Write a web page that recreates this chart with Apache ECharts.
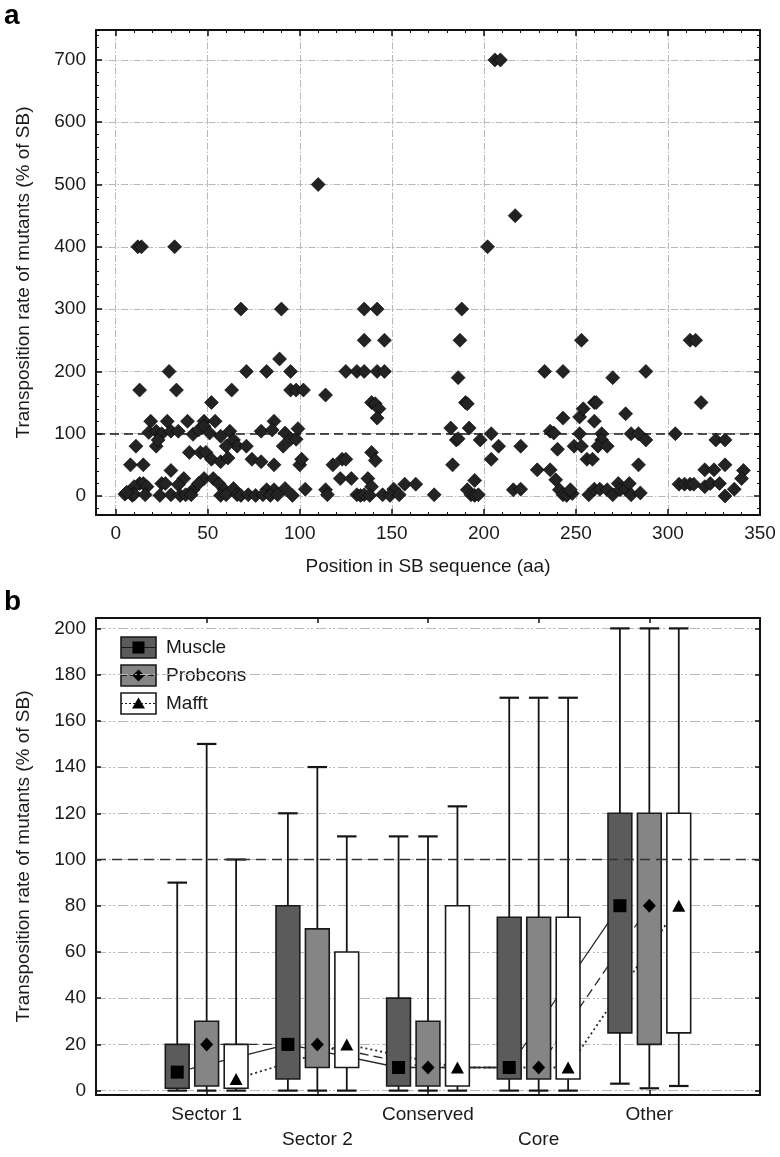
<!DOCTYPE html>
<html><head><meta charset="utf-8">
<script src="https://cdn.jsdelivr.net/npm/echarts@6/dist/echarts.min.js"></script>
<style>html,body{margin:0;padding:0;background:#fff}#c{width:780px;height:1157px}</style>
</head><body><div id="c"></div>
<script>
// ---------------- Panel a data ----------------
const mutantPoints = [
  [12,400],[14,400],[32,400],[110,500],[206,700],[209,700],[217,450],[202,400],
  [68,300],[90,300],[135,300],[142,300],[135,250],[146,250],
  [29,200],[13,170],[33,170],[71,200],[82,200],[89,220],[95,200],[63,170],
  [95,170],[98,170],[102,170],[52,150],[114,162],
  [125,200],[131,200],[135,200],[142,200],[146,200],
  [139,150],[141,148],[143,140],[142,125],
  [19,120],[28,120],[39,120],[48,120],[54,120],[86,120],
  [18,102],[22,104],[25,100],[30,104],[34,104],
  [42,99],[45,106],[48,112],[51,101],[57,96],[62,104],[64,90],
  [22,80],[23,90],[11,80],[40,70],[46,70],[49,70],[52,59],
  [66,80],[71,80],[60,80],[79,104],[85,106],
  [92,101],[95,91],[98,91],[99,108],[91,80],
  [74,59],[79,55],[86,50],[100,50],[101,59],
  [8,50],[15,50],[118,50],[123,59],[125,59],[139,70],[141,57],
  [122,28],[128,28],[137,28],[139,15],
  [30,41],[37,28],[34,18],[48,28],[53,28],[56,20],[57,55],[61,61],
  [13,20],[15,20],[17,15],[10,15],[25,20],[27,20],[42,10],[45,20],
  [59,10],[64,12],[82,10],[86,10],[92,12],[103,11],[114,10],[115,2],
  [151,11],[157,19],[163,19],[173,2],
  [5,3],[9,1],[10,3],[16,2],[24,1],[30,2],[35,1],[38,2],[41,2],[57,1],[60,2],[66,2],
  [68,1],[72,2],[76,1],[80,2],[84,1],[88,2],[96,1],[131,2],[133,1],[135,2],[138,1],
  [145,2],[149,1],[154,2],[6,6],
  [188,300],[187,250],[186,190],[190,150],[191,148],[182,109],[192,109],[185,90],[186,92],
  [198,90],[183,50],[195,25],[191,10],[193,2],[195,1],[197,2],
  [204,100],[208,80],[204,59],[220,80],[216,10],[220,11],
  [233,200],[243,200],[253,250],[270,190],[288,200],[318,150],[312,250],[315,250],
  [243,125],[236,104],[238,101],[240,75],
  [229,42],[236,42],[239,26],[241,10],[243,2],[245,1],[248,4],[247,10],
  [252,127],[254,140],[260,150],[261,150],[260,120],[252,100],[249,80],[253,80],
  [256,59],[259,59],[264,100],[264,90],[262,80],[267,80],
  [277,132],[280,100],[284,100],[288,90],[284,50],
  [257,2],[260,11],[263,11],[267,10],[270,2],[273,20],[274,10],[277,11],[279,20],[280,2],[285,5],
  [304,100],[306,19],[309,19],[312,19],[314,19],[320,42],[325,42],[326,90],[331,90],
  [320,15],[323,20],[328,20],[331,50],[331,0],[336,11],[341,41],[340,28]
];
const xTicksA = [0,50,100,150,200,250,300,350];
const yTicksA = [0,100,200,300,400,500,600,700];
const xMinorA = [10,20,30,40,60,70,80,90,110,120,130,140,160,170,180,190,210,220,230,240,260,270,280,290,310,320,330,340];
const yMinorA = [-20,20,40,60,80,120,140,160,180,220,240,260,280,320,340,360,380,420,440,460,480,520,540,560,580,620,640,660,680,720,740];
const refRateA = 100;

// ---------------- Panel b data ----------------
const categories = ['Sector 1','Sector 2','Conserved','Core','Other'];
const catPositions = [1,2,3,4,5];
// [min, q1, median, q3, max]
const muscleStats   = [[0,1,8,20,90],[0,5,20,80,120],[0,2,10,40,110],[0,5,10,75,170],[3,25,80,120,200]];
const probconsStats = [[0,2,20,30,150],[0,10,20,70,140],[0,2,10,30,110],[0,5,10,75,170],[1,20,80,120,200]];
const mafftStats    = [[0,1,5,20,100],[0,10,20,60,110],[0,2,10,80,123],[0,5,10,75,170],[2,25,80,120,200]];
const yTicksB = [0,20,40,60,80,100,120,140,160,180,200];
const refRateB = 100;

// ---------------- styling ----------------
const FONT = "'Liberation Sans', Arial, Helvetica, sans-serif";
const TXT = '#1a1a1a';
const GRID_COLOR = '#b8b8b8';
const GRID_DASH = [7,2,1.5,2];
const BOX_W = 0.215;
const OFFS = [-0.266, 0, 0.266];

function tickAxis(base) {
  return Object.assign({
    type:'value', axisLine:{show:false, onZero:false}, axisLabel:{show:false},
    splitLine:{show:false}, axisTick:{show:false}
  }, base);
}

const gA = 0, gB = 1;
const xA = {min:-10.7, max:350}, yA = {min:-30.5, max:748};
const xB = {min:0, max:6}, yB = {min:-1.9, max:204.5};
const LINE = {show:true, onZero:false, lineStyle:{color:'#111', width:2}};

const xAxes = [
  tickAxis(Object.assign({gridIndex:gA, position:'bottom', axisLine:LINE,
    axisTick:{show:true, inside:true, length:6, customValues:xTicksA, lineStyle:{color:'#111', width:1.5}},
    axisLabel:{show:true, customValues:xTicksA, fontSize:19, fontFamily:FONT, color:TXT, margin:9},
    splitLine:{show:true, lineStyle:{color:GRID_COLOR, width:1, type:GRID_DASH}},
    name:'Position in SB sequence (aa)', nameLocation:'middle', nameGap:42,
    nameTextStyle:{fontSize:19, fontFamily:FONT, color:TXT}}, xA)),
  tickAxis(Object.assign({gridIndex:gA, position:'bottom',
    axisTick:{show:true, inside:true, length:3, customValues:xMinorA, lineStyle:{color:'#111', width:1}}}, xA)),
  tickAxis(Object.assign({gridIndex:gA, position:'top', axisLine:LINE,
    axisTick:{show:true, inside:true, length:6, customValues:xTicksA, lineStyle:{color:'#111', width:1.5}}}, xA)),
  tickAxis(Object.assign({gridIndex:gA, position:'top',
    axisTick:{show:true, inside:true, length:3, customValues:xMinorA, lineStyle:{color:'#111', width:1}}}, xA)),
  // panel b
  tickAxis(Object.assign({gridIndex:gB, position:'bottom', axisLine:LINE,
    axisTick:{show:true, inside:true, length:5, customValues:catPositions, lineStyle:{color:'#111', width:1.5}},
    axisLabel:{show:true, customValues:catPositions, fontSize:19, fontFamily:FONT, color:TXT, margin:7, lineHeight:25,
      formatter:(v)=>{const i=Math.round(v)-1; return (i%2===1?'\n':'')+categories[i];}}}, xB)),
  tickAxis(Object.assign({gridIndex:gB, position:'top', axisLine:LINE,
    axisTick:{show:true, inside:true, length:5, customValues:catPositions, lineStyle:{color:'#111', width:1.5}}}, xB))
];

const yAxes = [
  tickAxis(Object.assign({gridIndex:gA, position:'left', axisLine:LINE,
    axisTick:{show:true, inside:true, length:6, customValues:yTicksA, lineStyle:{color:'#111', width:1.5}},
    axisLabel:{show:true, customValues:yTicksA, fontSize:19, fontFamily:FONT, color:TXT, margin:10},
    splitLine:{show:true, lineStyle:{color:GRID_COLOR, width:1, type:GRID_DASH}},
    name:'Transposition rate of mutants (% of SB)', nameLocation:'middle', nameGap:63,
    nameTextStyle:{fontSize:19, fontFamily:FONT, color:TXT}}, yA)),
  tickAxis(Object.assign({gridIndex:gA, position:'left',
    axisTick:{show:true, inside:true, length:3, customValues:yMinorA, lineStyle:{color:'#111', width:1}}}, yA)),
  tickAxis(Object.assign({gridIndex:gA, position:'right', axisLine:LINE,
    axisTick:{show:true, inside:true, length:6, customValues:yTicksA, lineStyle:{color:'#111', width:1.5}}}, yA)),
  tickAxis(Object.assign({gridIndex:gA, position:'right',
    axisTick:{show:true, inside:true, length:3, customValues:yMinorA, lineStyle:{color:'#111', width:1}}}, yA)),
  // panel b
  tickAxis(Object.assign({gridIndex:gB, position:'left', axisLine:LINE,
    axisTick:{show:true, inside:true, length:5, customValues:yTicksB, lineStyle:{color:'#111', width:1.5}},
    axisLabel:{show:true, customValues:yTicksB, fontSize:19, fontFamily:FONT, color:TXT, margin:10},
    splitLine:{show:true, lineStyle:{color:GRID_COLOR, width:1, type:[10,3,2,2,2,3]}},
    name:'Transposition rate of mutants (% of SB)', nameLocation:'middle', nameGap:63,
    nameTextStyle:{fontSize:19, fontFamily:FONT, color:TXT}}, yB)),
  tickAxis(Object.assign({gridIndex:gB, position:'right', axisLine:LINE,
    axisTick:{show:true, inside:true, length:5, customValues:yTicksB, lineStyle:{color:'#111', width:1.5}}}, yB))
];

function boxSeries(name, stats, offset, fill) {
  return {
    type:'custom', name, xAxisIndex:4, yAxisIndex:4, z:3, silent:true,
    data: stats.map((d,i)=>[catPositions[i]].concat(d)),
    encode:{x:0, y:[1,2,3,4,5]},
    renderItem:(params, api)=>{
      const xc = api.value(0) + offset;
      const pMin = api.coord([xc, api.value(1)]);
      const pQ1 = api.coord([xc, api.value(2)]);
      const pQ3 = api.coord([xc, api.value(4)]);
      const pMax = api.coord([xc, api.value(5)]);
      const w = api.size([BOX_W, 0])[0];
      const cw = w*0.82;
      const x = pMin[0];
      const ls = {stroke:'#151515', lineWidth:1.8};
      return {type:'group', children:[
        {type:'line', shape:{x1:x, y1:pQ3[1], x2:x, y2:pMax[1]}, style:ls},
        {type:'line', shape:{x1:x-cw/2, y1:pMax[1], x2:x+cw/2, y2:pMax[1]}, style:{stroke:'#151515', lineWidth:2.2}},
        {type:'line', shape:{x1:x, y1:pQ1[1], x2:x, y2:pMin[1]}, style:ls},
        {type:'line', shape:{x1:x-cw/2, y1:pMin[1], x2:x+cw/2, y2:pMin[1]}, style:{stroke:'#151515', lineWidth:2.2}},
        {type:'rect', shape:{x:x-w/2, y:pQ3[1], width:w, height:pQ1[1]-pQ3[1]},
          style:{fill:fill, stroke:'#1a1a1a', lineWidth:1.6}}
      ]};
    }
  };
}

function medianLine(stats, offset, dash, width) {
  return {
    type:'line', xAxisIndex:4, yAxisIndex:4, z:2, silent:true, showSymbol:false, symbol:'none',
    data: stats.map((d,i)=>[catPositions[i]+offset, d[2]]),
    lineStyle:{color:'#2a2a2a', width:width, type:dash}
  };
}

function medianMarks(stats, offset, symbol, size) {
  return {
    type:'scatter', xAxisIndex:4, yAxisIndex:4, z:5, silent:true,
    symbol:symbol, symbolSize:size,
    data: stats.map((d,i)=>[catPositions[i]+offset, d[2]]),
    itemStyle:{color:'#000', opacity:1}
  };
}

// legend drawn as graphic composites (box + line + marker + text)
function legendRow(top, fill, dash, markerShape, label) {
  const bx = 121, bw = 35, bh = 21, cy = top + bh/2;
  const children = [
    {type:'rect', shape:{x:bx, y:top, width:bw, height:bh}, style:{fill:fill, stroke:'#1a1a1a', lineWidth:1.6}},
    {type:'line', shape:{x1:bx, y1:cy, x2:bx+bw, y2:cy}, style:{stroke:'#1a1a1a', lineWidth:1.2, lineDash:dash}},
    markerShape(bx+bw/2, cy),
    {type:'text', x:166, y:cy, style:{text:label, fontSize:19, fontFamily:FONT, fill:TXT, textVerticalAlign:'middle'}}
  ];
  return {type:'group', children};
}
const sq = (x,y)=>({type:'rect', shape:{x:x-6, y:y-6, width:12, height:12}, style:{fill:'#000'}});
const dm = (x,y)=>({type:'polygon', shape:{points:[[x,y-6],[x+6,y],[x,y+6],[x-6,y]]}, style:{fill:'#000'}});
const tr = (x,y)=>({type:'polygon', shape:{points:[[x,y-6],[x+6.5,y+5],[x-6.5,y+5]]}, style:{fill:'#000'}});

const option = {
  animation:false,
  backgroundColor:'#fff',
  grid:[
    {left:96, top:30, width:664, height:485, containLabel:false},
    {left:96, top:618, width:664, height:477, containLabel:false}
  ],
  xAxis:xAxes,
  yAxis:yAxes,
  graphic:[
    {type:'text', left:4, top:2, style:{text:'a', fontSize:28, fontWeight:'bold', fontFamily:FONT, fill:'#000'}},
    {type:'text', left:4, top:588, style:{text:'b', fontSize:28, fontWeight:'bold', fontFamily:FONT, fill:'#000'}},
    legendRow(637, '#5b5b5b', null, sq, 'Muscle'),
    legendRow(665, '#858585', [6,3], dm, 'Probcons'),
    legendRow(693, '#ffffff', [2,2], tr, 'Mafft')
  ],
  series:[
    {
      type:'scatter', xAxisIndex:0, yAxisIndex:0, z:3, silent:true,
      symbol:'diamond', symbolSize:[14,14],
      data:mutantPoints,
      itemStyle:{color:'#232323', borderColor:'#000', borderWidth:0.6, opacity:1},
      markLine:{silent:true, symbol:'none', label:{show:false}, z:2,
        lineStyle:{color:'#1a1a1a', width:1.6, type:[9,5]},
        data:[{yAxis:refRateA}]}
    },
    {
      type:'line', xAxisIndex:4, yAxisIndex:4, z:1, data:[], silent:true,
      markLine:{silent:true, symbol:'none', label:{show:false},
        lineStyle:{color:'#333', width:1.4, type:[10,6]},
        data:[{yAxis:refRateB}]}
    },
    medianLine(muscleStats, OFFS[0], 'solid', 1.3),
    medianLine(probconsStats, OFFS[1], [9,5], 1.3),
    medianLine(mafftStats, OFFS[2], [2,3], 1.8),
    boxSeries('Muscle', muscleStats, OFFS[0], '#5b5b5b'),
    boxSeries('Probcons', probconsStats, OFFS[1], '#858585'),
    boxSeries('Mafft', mafftStats, OFFS[2], '#ffffff'),
    medianMarks(muscleStats, OFFS[0], 'rect', 13),
    medianMarks(probconsStats, OFFS[1], 'diamond', [13,14]),
    medianMarks(mafftStats, OFFS[2], 'triangle', [13,12])
  ]
};
const chart = echarts.init(document.getElementById('c'), null, {renderer:'canvas'});
chart.setOption(option);
</script>
</body></html>
